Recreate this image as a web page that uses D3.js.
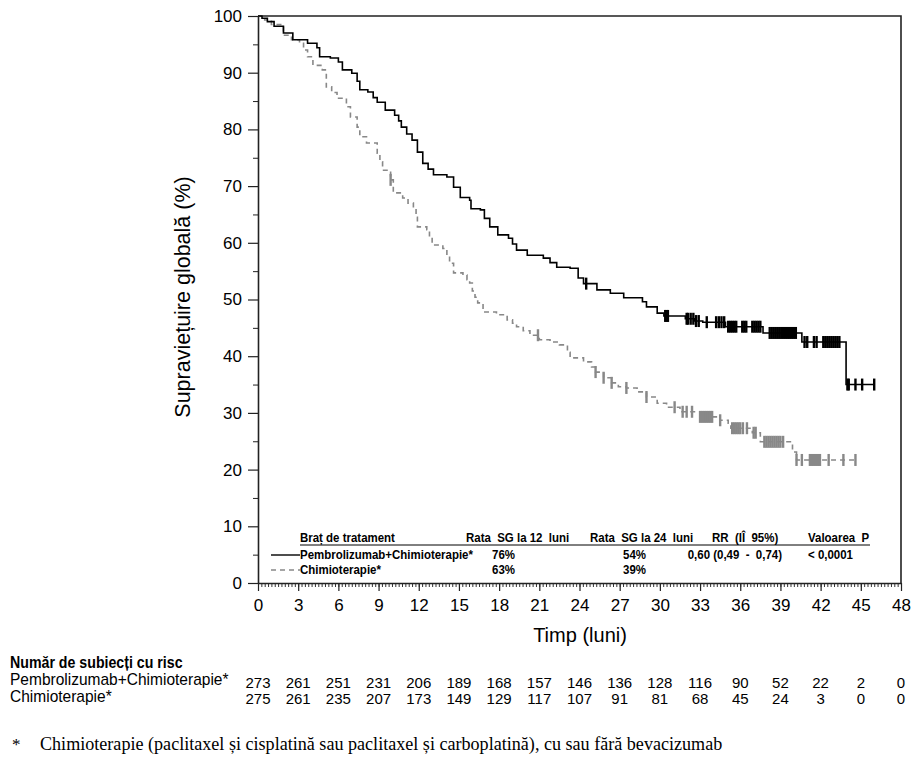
<!DOCTYPE html>
<html>
<head>
<meta charset="utf-8">
<script src="https://cdn.jsdelivr.net/npm/d3@7"></script>
<style>
  body { margin: 0; background: #fff; }
  svg text { font-family: Arial, "Liberation Sans", sans-serif; }
</style>
</head>
<body>
<svg id="chart" width="917" height="759"></svg>
<script>
// Kaplan-Meier steps: [luni, %]
const pembroSteps = [[0,100],[0.3,99.6],[0.7,99],[1.2,98.2],[1.9,97],[2.6,95.8],[3.7,95.2],[4.4,94.4],[4.6,92.8],
  [5.4,92.6],[6.0,91.9],[6.3,90.5],[7.0,89.9],[7.4,88.5],[7.6,87],[8.2,86.6],[8.6,85.6],[8.9,84.8],[9.5,83.4],
  [10.2,82.5],[10.5,81.5],[10.7,80.4],[11.1,79.2],[11.5,78.1],[11.9,76],[12.3,74],[12.7,73],[13.1,72],[14.1,71.6],
  [14.6,69.8],[15.1,68],[15.8,67.5],[15.9,66],[16.6,65.8],[16.9,64.3],[17.3,62.8],[17.9,61.4],[18.7,60.8],
  [19.0,59.8],[19.3,58.7],[20.1,57.8],[21.3,57.3],[21.8,56.5],[22.3,55.7],[23.3,55.5],[23.9,53.8],[24.3,52.8],
  [25.3,51.7],[26.3,51.1],[27.3,50.3],[28.7,49.6],[29.0,48.7],[29.8,47.6],[30.3,47.1],[31.9,46.6],[32.6,46.2],
  [33.2,46.0],[34.9,45.2],[37.7,44.1],[40.6,42.5],[43.9,35]];
const pembroEnd = 46.0;
const pembroCensor = [24.5,30.4,30.5,30.6,32.0,32.1,32.3,32.5,32.7,32.9,33.5,34.2,34.4,34.6,34.8,35.1,35.25,35.4,
  35.55,35.7,36.15,36.3,36.45,36.9,37.05,37.2,37.35,37.5,38.2,38.35,38.5,38.65,38.8,38.95,39.1,39.25,39.4,39.55,
  39.7,39.85,40.0,40.15,40.8,41.0,41.5,41.7,42.2,42.35,42.5,42.65,42.8,42.95,43.1,43.25,43.4,44.0,44.1,44.6,45.1,46.0];

const chemoSteps = [[0,100],[0.5,99.3],[1.0,98.5],[1.9,96.6],[2.5,95.8],[3.1,95.2],[3.4,94],[3.7,92.8],[4.1,91.3],
  [4.8,90.5],[5.1,87.5],[5.5,86.5],[5.9,85.5],[6.6,84],[6.9,82.2],[7.4,80.4],[7.6,78.7],[8.1,77.6],[8.9,75.8],
  [9.1,74.3],[9.3,72.8],[9.9,71.1],[10.1,68.8],[10.8,67.9],[11.2,67],[11.6,66.1],[11.8,64.5],[11.9,62.8],
  [12.6,62.3],[12.8,61],[13.0,59.6],[13.8,59],[14.1,57.7],[14.3,56.4],[14.6,54.7],[15.3,54.3],[15.6,53.5],
  [15.8,52.9],[16.0,51.5],[16.2,50.4],[16.4,49.4],[16.8,47.8],[17.8,47.3],[18.6,46.4],[19.0,45.8],[19.3,45.2],
  [19.8,44.5],[20.3,43.7],[21.0,42.9],[21.8,42.5],[22.5,42],[23.1,40.7],[23.3,39.7],[24.3,39],[24.9,38.1],
  [25.2,37.2],[25.8,36.2],[26.4,35.3],[26.9,34.6],[27.5,34.4],[28.3,33.7],[29.0,32.8],[29.8,31.7],[30.5,31],
  [31.5,30.2],[33.0,29.3],[34.5,28.7],[35.1,28.2],[35.3,27.3],[36.9,26.5],[37.5,24.9],[39.9,23.1],[40.2,21.7]];
const chemoEnd = 44.6;
const chemoCensor = [9.9,20.9,25.2,25.8,26.4,27.5,29.0,31.1,31.7,32.0,32.4,33.0,33.15,33.3,33.45,33.6,33.75,
  33.9,34.5,35.4,35.55,35.7,35.85,36.0,36.2,36.5,37.0,37.15,37.8,37.95,38.1,38.25,38.4,38.55,38.7,38.85,39.0,
  39.2,40.2,40.6,41.2,41.35,41.5,41.65,41.8,41.95,42.6,43.7,44.6];

const xTicks = [0,3,6,9,12,15,18,21,24,27,30,33,36,39,42,45,48];
const yTicks = [0,10,20,30,40,50,60,70,80,90,100];
const pembroRisk = [273,261,251,231,206,189,168,157,146,136,128,116,90,52,22,2,0];
const chemoRisk = [275,261,235,207,173,149,129,117,107,91,81,68,45,24,3,0,0];

const legendHeader = ["Braț de tratament","Rata  SG la 12  luni","Rata  SG la 24  luni","RR  (IÎ  95%)","Valoarea  P"];
const legendRows = [
  ["Pembrolizumab+Chimioterapie*","76%","54%","0,60 (0,49  -  0,74)","< 0,0001"],
  ["Chimioterapie*","63%","39%","",""]
];

const svg = d3.select('#chart');
const L = 258, R = 901, T = 16, B = 583;
const x = d3.scaleLinear().domain([0, 48]).range([L, R]);
const y = d3.scaleLinear().domain([0, 100]).range([B, T]);

// condensed text (no narrow font installed): squeeze horizontally
function narrow(g, px, py, str, opts = {}) {
  return g.append('text')
    .attr('transform', `translate(${px},${py}) scale(${opts.sx || 0.85},1)`)
    .attr('text-anchor', opts.anchor || 'start')
    .attr('font-size', opts.size || 13.5)
    .attr('font-weight', opts.weight || 'bold')
    .attr('xml:space', 'preserve')
    .text(str);
}

// frame top + right
svg.append('path')
  .attr('d', `M${L},${T}H${R}V${B}`)
  .attr('fill', 'none').attr('stroke', '#222').attr('stroke-width', 1.6);

// minor x ticks
const xMinor = svg.append('g').attr('transform', `translate(0,${B})`)
  .call(d3.axisBottom(x).tickValues(d3.range(0, 48.001, 0.25)).tickSize(4).tickFormat(''));
xMinor.select('.domain').remove();
xMinor.selectAll('line').attr('stroke', '#333');

const xAxis = svg.append('g').attr('transform', `translate(0,${B})`)
  .call(d3.axisBottom(x).tickValues(xTicks).tickSize(8).tickSizeOuter(0).tickPadding(8));
xAxis.select('.domain').attr('stroke', '#222').attr('stroke-width', 1.6);
xAxis.selectAll('line').attr('stroke', '#222').attr('stroke-width', 1.2);
xAxis.selectAll('text').attr('font-size', 17).attr('fill', '#000');

const yMinor = svg.append('g').attr('transform', `translate(${L},0)`)
  .call(d3.axisLeft(y).tickValues(d3.range(5, 100, 10)).tickSize(5).tickFormat(''));
yMinor.select('.domain').remove();
yMinor.selectAll('line').attr('stroke', '#222');

const yAxis = svg.append('g').attr('transform', `translate(${L},0)`)
  .call(d3.axisLeft(y).tickValues(yTicks).tickSize(10).tickSizeOuter(0).tickPadding(6));
yAxis.select('.domain').attr('stroke', '#222').attr('stroke-width', 1.6);
yAxis.selectAll('line').attr('stroke', '#222').attr('stroke-width', 1.2);
yAxis.selectAll('text').attr('font-size', 17).attr('fill', '#000');

svg.append('text').attr('x', 580).attr('y', 642).attr('text-anchor', 'middle')
  .attr('font-size', 20).text('Timp (luni)');
svg.append('text').attr('transform', 'translate(190,297) rotate(-90)').attr('text-anchor', 'middle')
  .attr('font-size', 21.5).text('Supraviețuire globală (%)');

// curves
const line = d3.line().x(d => x(d[0])).y(d => y(d[1])).curve(d3.curveStepAfter);
function survAt(steps, t) {
  let s = steps[0][1];
  for (const p of steps) { if (p[0] <= t) s = p[1]; }
  return s;
}
function drawArm(steps, end, censor, color, dash) {
  const pts = steps.concat([[end, steps[steps.length - 1][1]]]);
  svg.append('path').datum(pts).attr('d', line)
    .attr('fill', 'none').attr('stroke', color).attr('stroke-width', 1.6)
    .attr('stroke-dasharray', dash);
  svg.append('g').selectAll('line').data(censor).enter().append('line')
    .attr('x1', d => x(d)).attr('x2', d => x(d))
    .attr('y1', d => y(survAt(steps, d)) - 6).attr('y2', d => y(survAt(steps, d)) + 6)
    .attr('stroke', color).attr('stroke-width', 2.4);
}
drawArm(chemoSteps, chemoEnd, chemoCensor, '#888', '5,4');
drawArm(pembroSteps, pembroEnd, pembroCensor, '#000', null);

// legend table inside plot
const colX = [300, 466, 590, 712, 808];
const lg = svg.append('g');
legendHeader.forEach((h, i) => narrow(lg, colX[i], 542, h));
lg.append('line').attr('x1', 300).attr('x2', 870).attr('y1', 545).attr('y2', 545)
  .attr('stroke', '#000').attr('stroke-width', 1);
const rowY = [559, 574];
const valX = [300, 492, 623, 782, 808];
legendRows.forEach((row, r) => {
  row.forEach((v, i) => narrow(lg, valX[i], rowY[r], v, { anchor: i === 3 ? 'end' : 'start' }));
});
lg.append('line').attr('x1', 271).attr('x2', 300).attr('y1', rowY[0] - 4).attr('y2', rowY[0] - 4)
  .attr('stroke', '#000').attr('stroke-width', 1.4);
lg.append('line').attr('x1', 271).attr('x2', 300).attr('y1', rowY[1] - 4).attr('y2', rowY[1] - 4)
  .attr('stroke', '#888').attr('stroke-width', 1.4).attr('stroke-dasharray', '5,4');

// number at risk
narrow(svg, 10, 668, 'Număr de subiecți cu risc', { size: 16.5, sx: 0.86 });
narrow(svg, 10, 685, 'Pembrolizumab+Chimioterapie*', { size: 16, sx: 0.97, weight: 'normal' });
narrow(svg, 10, 702, 'Chimioterapie*', { size: 16, sx: 0.97, weight: 'normal' });
[[pembroRisk, 688], [chemoRisk, 704]].forEach(([arr, yy]) => {
  svg.append('g').selectAll('text').data(arr).enter().append('text')
    .attr('x', (d, i) => x(xTicks[i])).attr('y', yy).attr('text-anchor', 'middle')
    .attr('font-size', 15).text(d => d);
});

// footnote
const serif = '"Liberation Serif", "Times New Roman", serif';
svg.append('text').attr('x', 12).attr('y', 750).attr('font-size', 17)
  .style('font-family', serif).text('*');
svg.append('text').attr('x', 40).attr('y', 750).attr('font-size', 18.1)
  .style('font-family', serif)
  .text('Chimioterapie (paclitaxel și cisplatină sau paclitaxel și carboplatină), cu sau fără bevacizumab');
</script>
</body>
</html>
